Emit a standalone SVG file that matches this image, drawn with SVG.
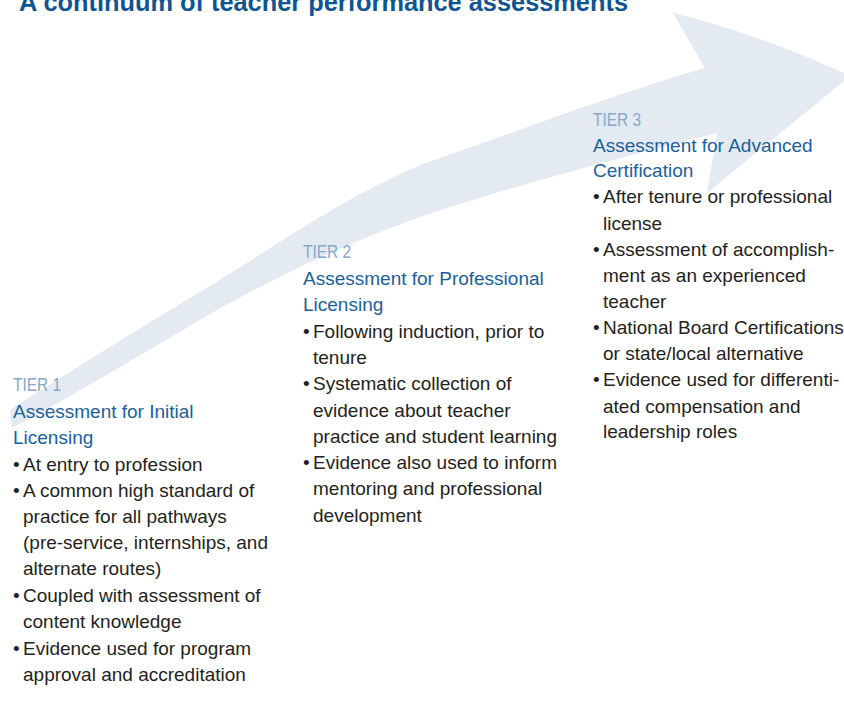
<svg xmlns="http://www.w3.org/2000/svg" width="844" height="724" viewBox="0 0 844 724">
<style>
.t{font-family:"Liberation Sans",Arial,sans-serif;font-size:19px}
.title{font-family:"Liberation Sans",Arial,sans-serif;font-size:26px;font-weight:bold;fill:#0f5592}
.tier{fill:#85a9c7}
.head{fill:#1a5f9c}
.body{fill:#231f20}
</style>
<rect width="844" height="724" fill="#ffffff"/>
<g id="arrow">
<path fill="#e3eaf1" d="M10,410 C80,365 150,322 200,292 C270,250 340,199 420,165 C520,131 610,95 705,68 L673,13 Q758,33.5 850,76 L707,193 L717,133 C610,160 500,190 420,217 C340,245 260,285 200,320 C140,355 60,403 12,428 Z"/>
</g>
<text class="title" x="19" y="11" textLength="609" lengthAdjust="spacingAndGlyphs">A continuum of teacher performance assessments</text>
<g id="tier1" class="t">
<text class="tier" x="13" y="391" textLength="48" lengthAdjust="spacingAndGlyphs">TIER 1</text>
<text class="head" x="13" y="418">Assessment for Initial</text>
<text class="head" x="13" y="444">Licensing</text>
<g class="body">
<text x="13" y="471">•</text><text x="23" y="471">At entry to profession</text>
<text x="13" y="497">•</text><text x="23" y="497">A common high standard of</text>
<text x="23" y="523">practice for all pathways</text>
<text x="23" y="549">(pre-service, internships, and</text>
<text x="23" y="575">alternate routes)</text>
<text x="13" y="602">•</text><text x="23" y="602">Coupled with assessment of</text>
<text x="23" y="628">content knowledge</text>
<text x="13" y="655">•</text><text x="23" y="655">Evidence used for program</text>
<text x="23" y="681">approval and accreditation</text>
</g>
</g>
<g id="tier2" class="t">
<text class="tier" x="303" y="258" textLength="48" lengthAdjust="spacingAndGlyphs">TIER 2</text>
<text class="head" x="303" y="285">Assessment for Professional</text>
<text class="head" x="303" y="311">Licensing</text>
<g class="body">
<text x="303" y="338">•</text><text x="313" y="338">Following induction, prior to</text>
<text x="313" y="364">tenure</text>
<text x="303" y="390">•</text><text x="313" y="390">Systematic collection of</text>
<text x="313" y="417">evidence about teacher</text>
<text x="313" y="443">practice and student learning</text>
<text x="303" y="469">•</text><text x="313" y="469">Evidence also used to inform</text>
<text x="313" y="495">mentoring and professional</text>
<text x="313" y="522">development</text>
</g>
</g>
<g id="tier3" class="t">
<text class="tier" x="593" y="126" textLength="48" lengthAdjust="spacingAndGlyphs">TIER 3</text>
<text class="head" x="593" y="152">Assessment for Advanced</text>
<text class="head" x="593" y="177">Certification</text>
<g class="body">
<text x="593" y="203">•</text><text x="603" y="203">After tenure or professional</text>
<text x="603" y="230">license</text>
<text x="593" y="256">•</text><text x="603" y="256">Assessment of accomplish-</text>
<text x="603" y="282">ment as an experienced</text>
<text x="603" y="308">teacher</text>
<text x="593" y="334">•</text><text x="603" y="334">National Board Certifications</text>
<text x="603" y="360">or state/local alternative</text>
<text x="593" y="386">•</text><text x="603" y="386">Evidence used for differenti-</text>
<text x="603" y="413">ated compensation and</text>
<text x="603" y="438">leadership roles</text>
</g>
</g>
</svg>
